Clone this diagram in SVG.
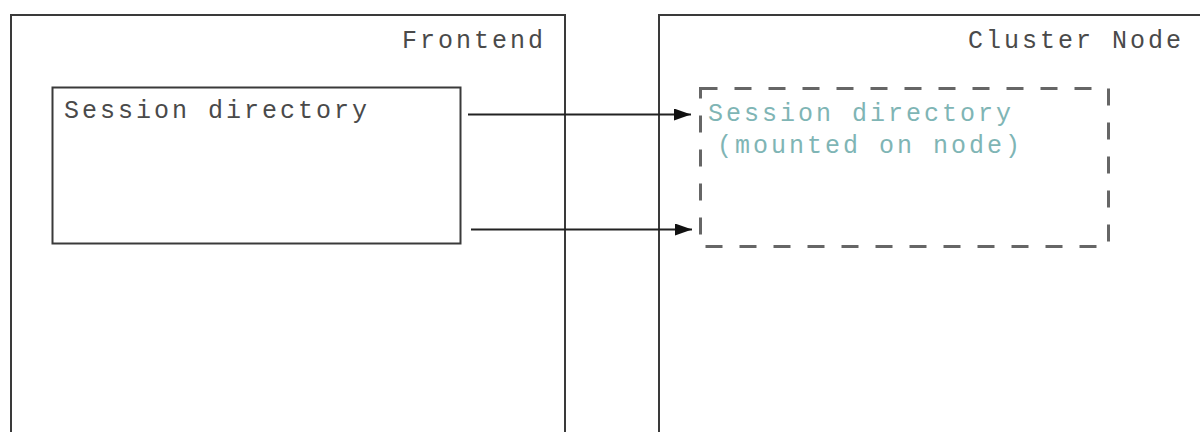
<svg xmlns="http://www.w3.org/2000/svg" width="1200" height="432" viewBox="0 0 1200 432">
<style>
.box{fill:none;stroke:#3a3a3a;stroke-width:2}
.dash{fill:none;stroke:#666;stroke-width:3;stroke-dasharray:17 17}
.lbl{font-family:"Liberation Mono","Courier New",monospace;font-size:25px;letter-spacing:3px;fill:#4a4a4a}
.teal{fill:#7fb5b5}
.edge{stroke:#222;stroke-width:2;fill:none}
</style>
<defs>
<marker id="arr" markerUnits="userSpaceOnUse" markerWidth="18" markerHeight="12" refX="17" refY="6" orient="auto">
<path d="M0,0 L17,6 L0,12 Z" fill="#111"/>
</marker>
</defs>
<rect width="1200" height="432" fill="#fff"/>
<g id="frontend">
<rect class="box" x="11" y="15" width="554" height="500"/>
<text class="lbl" x="402" y="47.5">Frontend</text>
</g>
<g id="cluster-node">
<rect class="box" x="659" y="15" width="600" height="500"/>
<text class="lbl" x="968" y="47.5">Cluster Node</text>
</g>
<g id="session-dir">
<rect class="box" x="52.5" y="87.5" width="408" height="156"/>
<text class="lbl" x="64" y="117.5">Session directory</text>
</g>
<g id="mounted-dir">
<rect class="dash" x="700.5" y="88.5" width="408" height="158"/>
<text class="lbl teal" x="708" y="120.5">Session directory</text>
<text class="lbl teal" x="717" y="152.5">(mounted on node)</text>
</g>
<g id="connectors">
<line class="edge" x1="468" y1="114.5" x2="691" y2="114.5" marker-end="url(#arr)"/>
<line class="edge" x1="471" y1="229.5" x2="692" y2="229.5" marker-end="url(#arr)"/>
</g>
</svg>
